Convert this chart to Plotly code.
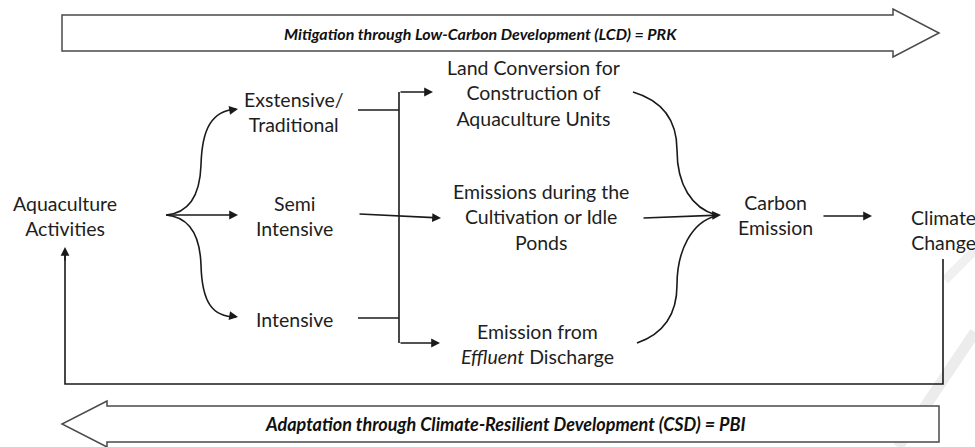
import plotly.graph_objects as go

# ---- text content (the diagram's "data") ----
top_banner = "Mitigation through Low-Carbon Development (LCD) = PRK"
bottom_banner = "Adaptation through Climate-Resilient Development (CSD) = PBI"
source_label = ["Aquaculture", "Activities"]
system_labels = [["Exstensive/", "Traditional"], ["Semi", "Intensive"], ["Intensive"]]
emission_labels = [["Land Conversion for", "Construction of", "Aquaculture Units"],
                   ["Emissions during the", "Cultivation or Idle", "Ponds"],
                   ["Emission from", "<i>Effluent</i> Discharge"]]
result_labels = [["Carbon", "Emission"], ["Climate", "Change"]]

W, H = 975, 447
FONT = "Lato, 'Open Sans', sans-serif"
INK = "#1a1a1a"
BOX = "#4a4a4a"

fig = go.Figure()
fig.add_trace(go.Scatter(x=[0, W], y=[0, H], mode="markers", marker=dict(opacity=0), hoverinfo="skip", showlegend=False))

shapes = []
annotations = []

def line(x0, y0, x1, y1, w=1.6, color=INK):
    shapes.append(dict(type="line", x0=x0, y0=y0, x1=x1, y1=y1, xref="x", yref="y",
                       line=dict(color=color, width=w)))

def path(d, w=1.6, color=INK, fill=None):
    s = dict(type="path", path=d, xref="x", yref="y", line=dict(color=color, width=w))
    if fill:
        s["fillcolor"] = fill
    shapes.append(s)

def arrow(x0, y0, x1, y1, w=1.6):
    annotations.append(dict(x=x1, y=y1, ax=x0, ay=y0, xref="x", yref="y", axref="x", ayref="y",
                            text="", showarrow=True, arrowhead=2, arrowsize=1.1, arrowwidth=w,
                            arrowcolor=INK, standoff=0, startstandoff=0))

def label(lines, x, y, size=19.5, xanchor="center", align="center"):
    annotations.append(dict(x=x, y=y, xref="x", yref="y", text="<br>".join(lines), showarrow=False,
                            font=dict(family=FONT, size=size, color="#1e1e1e"), xanchor=xanchor,
                            yanchor="middle", align=align))

# watermark strokes
line(975, 332, 898, 447, w=11, color="#ececec")
line(945, 280, 975, 250, w=9, color="#f0f0f0")

# top banner arrow (pointing right)
path("M 62 15 L 893 15 L 893 9 L 939 33 L 893 57 L 893 51 L 62 51 Z", w=1.5, color=BOX, fill="white")
# bottom banner arrow (pointing left)
path("M 939 406 L 107 406 L 107 401 L 62 424 L 107 447 L 107 442 L 939 442 Z", w=1.5, color=BOX, fill="white")

annotations.append(dict(x=480, y=33, xref="x", yref="y", text="<b><i>" + top_banner + "</i></b>",
                        showarrow=False, font=dict(family=FONT, size=16, color="#111")))
annotations.append(dict(x=505, y=424, xref="x", yref="y", text="<b><i>" + bottom_banner + "</i></b>",
                        showarrow=False, font=dict(family=FONT, size=18, color="#111")))

# left fan (brace) from Aquaculture Activities
path("M 166 215 C 190 213, 200 195, 201 165 C 202 128, 212 111, 236 109")
path("M 166 215 C 190 217, 200 235, 201 265 C 202 302, 212 317, 236 317")
arrow(232, 110, 238, 109)
arrow(232, 316, 238, 317)
arrow(166, 215, 238, 215)

# bracket from systems to emission sources
line(358, 110, 399, 110)
line(358, 318, 399, 318)
line(399, 92, 399, 343)
arrow(399, 92, 433, 92)
arrow(399, 343, 440, 343)
arrow(358, 214, 441, 218)

# right brace into Carbon Emission
path("M 633 92 C 660 100, 677 118, 677 150 C 677 185, 692 208, 716 215")
path("M 637 343 C 660 335, 677 318, 677 285 C 677 250, 692 222, 716 216")
arrow(642, 218, 721, 215)

# Carbon Emission -> Climate Change
arrow(822, 216, 872, 216)

# feedback loop
path("M 943 259 L 943 384 L 65 384 L 65 255")
arrow(65, 262, 65, 247)

# labels
label(source_label, 65, 216)
label(system_labels[0], 294, 112)
label(system_labels[1], 294, 216)
label(system_labels[2], 294, 319)
label(emission_labels[0], 533, 93)
label(emission_labels[1], 541, 217)
label(emission_labels[2], 537, 344)
label(result_labels[0], 775, 215)
label(result_labels[1], 943, 230)

fig.update_layout(
    width=W, height=H, margin=dict(l=0, r=0, t=0, b=0),
    paper_bgcolor="white", plot_bgcolor="white",
    xaxis=dict(range=[0, W], visible=False, fixedrange=True),
    yaxis=dict(range=[H, 0], visible=False, fixedrange=True),
    shapes=shapes, annotations=annotations, showlegend=False,
)
fig.write_html(
    "out.html",
    config={"displayModeBar": False, "staticPlot": True},
    post_script="document.body.style.margin='0';document.body.style.overflow='hidden';",
)
